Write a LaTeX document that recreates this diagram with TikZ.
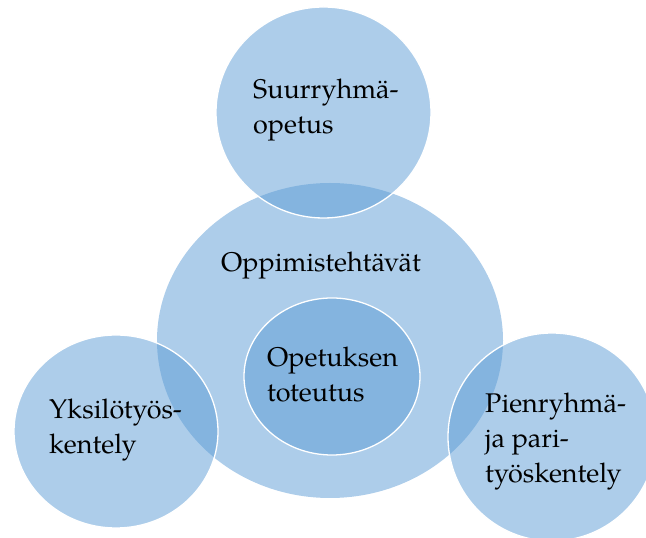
\documentclass[tikz,border=0pt]{standalone}
\usepackage{fontspec}
\setmainfont{TeX Gyre Pagella}
\usetikzlibrary{shapes.geometric}
\definecolor{blob}{HTML}{5B9BD5}
\tikzset{
  blobshape/.style={ellipse, inner sep=0pt, fill=blob, fill opacity=0.5, draw=none},
  ringed/.style={blobshape, draw=white, draw opacity=1, line width=1.3pt},
  label/.style={anchor=base west, align=left, inner sep=0pt, text=black,
    font=\fontsize{27}{35}\selectfont},
}
\begin{document}
\begin{tikzpicture}[x=1pt,y=1pt]
\useasboundingbox (0,0) rectangle (646,538);
\node[blobshape, minimum width=346pt, minimum height=315pt] (big) at (330,197.5) {};
\node[ringed, minimum width=215pt, minimum height=211pt] (top) at (323.5,425.5) {};
\node[ringed, minimum width=204pt, minimum height=193pt] (left) at (116,106.5) {};
\node[ringed, minimum width=208pt, minimum height=208pt] (right) at (552,101) {};
\node[ringed, minimum width=176pt, minimum height=157pt] (inner) at (332,161.5) {};
% base anchor of a multi-line node sits on its last line
\node[label] (ttop) at (253,404) {Suurryhmä-\\opetus};
\node[label] (tbig) at (221,266) {Oppimistehtävät};
\node[label] (tinner) at (267,136) {Opetuksen\\toteutus};
\node[label] (tleft) at (49,84) {Yksilötyös-\\kentely};
\node[label] (tright) at (485,55) {Pienryhmä-\\ja pari-\\työskentely};
\end{tikzpicture}
\end{document}
